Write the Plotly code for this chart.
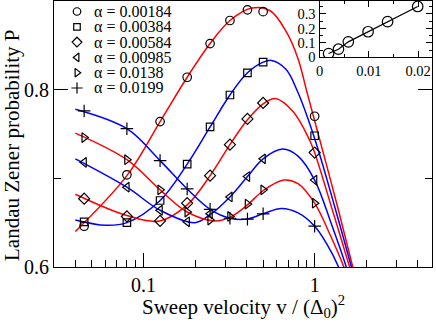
import math
import plotly.graph_objects as go

# ---------------- data ----------------
alpha_labels = ["α = 0.00184", "α = 0.00384", "α = 0.00584",
                "α = 0.00985", "α = 0.0138", "α = 0.0199"]

# measured points (sweep velocity)
v_points = [0.045, 0.08, 0.125, 0.18, 0.245, 0.32, 0.405, 0.5, 1.0]
P_a1 = [0.646, 0.704, 0.764, 0.814, 0.852, 0.878, 0.890, 0.888, 0.770]
P_a2 = [0.651, 0.650, 0.675, 0.716, 0.758, 0.794, 0.819, 0.831, 0.748]
P_a3 = [0.677, 0.657, 0.652, 0.672, 0.703, 0.738, 0.767, 0.785, 0.729]
P_a4 = [0.718, 0.690, 0.664, 0.651, 0.660, 0.679, 0.702, 0.722, 0.698]
P_a5 = [0.746, 0.721, 0.687, 0.662, 0.653, 0.657, 0.671, 0.687, 0.672]
P_a6 = [0.776, 0.756, 0.720, 0.688, 0.665, 0.655, 0.654, 0.660, 0.646]

# fitted curves
fit_v1 = [0.04, 0.08, 0.125, 0.18, 0.245, 0.32, 0.43, 0.55, 0.68, 0.8, 0.9, 1.0, 1.34, 1.67, 1.85]
fit_P1 = [0.640, 0.703, 0.764, 0.814, 0.852, 0.878, 0.892, 0.889, 0.866, 0.835, 0.798, 0.765, 0.673, 0.600, 0.567]
fit_v2 = [0.04, 0.06, 0.08, 0.125, 0.18, 0.245, 0.32, 0.405, 0.5, 0.56, 0.68, 0.79, 1.0, 1.31, 1.64, 1.8]
fit_P2 = [0.653, 0.647, 0.650, 0.675, 0.716, 0.758, 0.794, 0.819, 0.831, 0.833, 0.823, 0.799, 0.745, 0.668, 0.600, 0.572]
fit_v3 = [0.04, 0.08, 0.125, 0.18, 0.245, 0.32, 0.405, 0.5, 0.59, 0.75, 0.935, 1.0, 1.28, 1.6, 1.78]
fit_P3 = [0.682, 0.658, 0.652, 0.670, 0.703, 0.738, 0.766, 0.784, 0.790, 0.775, 0.743, 0.729, 0.662, 0.600, 0.570]
fit_v4 = [0.04, 0.08, 0.125, 0.2, 0.245, 0.32, 0.405, 0.5, 0.65, 0.8, 1.0, 1.25, 1.53, 1.7]
fit_P4 = [0.722, 0.690, 0.664, 0.650, 0.659, 0.679, 0.702, 0.722, 0.733, 0.725, 0.698, 0.649, 0.600, 0.568]
fit_v5 = [0.04, 0.08, 0.125, 0.18, 0.26, 0.32, 0.405, 0.5, 0.66, 0.8, 1.0, 1.22, 1.48, 1.65]
fit_P5 = [0.751, 0.721, 0.687, 0.662, 0.652, 0.656, 0.670, 0.686, 0.698, 0.694, 0.672, 0.638, 0.600, 0.572]
fit_v6 = [0.04, 0.08, 0.125, 0.18, 0.245, 0.32, 0.4, 0.5, 0.64, 0.8, 1.0, 1.17, 1.38, 1.55]
fit_P6 = [0.778, 0.756, 0.720, 0.688, 0.665, 0.655, 0.654, 0.660, 0.666, 0.661, 0.646, 0.627, 0.600, 0.572]

# inset
inset_alpha = [0.00184, 0.00384, 0.00584, 0.00985, 0.0138, 0.0199]
inset_val = [0.026, 0.056, 0.107, 0.177, 0.247, 0.352]

x_tick_vals = [0.1, 1]
x_tick_text = ["0.1", "1"]
y_tick_vals = [0.6, 0.8]
y_tick_text = ["0.6", "0.8"]

# ---------------- style ----------------
W, H = 436, 323
ML, MR, MT, MB = 54, 4, 1, 56
PW, PH = W - ML - MR, H - MT - MB
FONT = "Liberation Serif, Times New Roman, serif"
RED, BLUE = "#ff0000", "#0000ff"

point_sets = [P_a1, P_a2, P_a3, P_a4, P_a5, P_a6]
fits = [(fit_v1, fit_P1), (fit_v2, fit_P2), (fit_v3, fit_P3),
        (fit_v4, fit_P4), (fit_v5, fit_P5), (fit_v6, fit_P6)]
colors = [RED, BLUE, RED, BLUE, RED, BLUE]
symbols = ["circle-open", "square-open", "diamond-open",
           "triangle-left-open", "triangle-right-open", "cross-thin-open"]
sizes = [8.5, 7.5, 8.5, 8.5, 8.5, 9]
leg_sizes = [7.5, 6.5, 7.5, 7.5, 7.5, 8]

fig = go.Figure()

for (fv, fp), c in zip(fits, colors):
    fig.add_trace(go.Scatter(x=fv, y=fp, mode="lines",
                             line=dict(color=c, width=1.5, shape="spline", smoothing=1.0),
                             showlegend=False, hoverinfo="skip"))

for P, sym, sz in zip(point_sets, symbols, sizes):
    fig.add_trace(go.Scatter(x=v_points, y=P, mode="markers",
                             marker=dict(symbol=sym, size=sz, color="black",
                                         line=dict(color="black", width=1.2)),
                             showlegend=False))

# inset
fig.add_trace(go.Scatter(x=inset_alpha, y=inset_val, mode="lines+markers",
                         xaxis="x2", yaxis="y2",
                         line=dict(color="black", width=1.2),
                         marker=dict(symbol="circle-open", size=10.5, color="black",
                                     line=dict(color="black", width=1.2)),
                         showlegend=False))

# custom legend (markers on a hidden overlay axis, text as annotations)
leg_x_px, leg_text_px = 77, 92
leg_y0_px, leg_step_px = 11.5, 15.3
leg_x = [(leg_x_px - ML) / PW] * 6
leg_y = [(MT + PH - (leg_y0_px + i * leg_step_px)) / PH for i in range(6)]
for i, (sym, sz) in enumerate(zip(symbols, leg_sizes)):
    fig.add_trace(go.Scatter(x=[leg_x[i]], y=[leg_y[i]], mode="markers",
                             xaxis="x3", yaxis="y3",
                             marker=dict(symbol=sym, size=sz, color="black",
                                         line=dict(color="black", width=1.2)),
                             showlegend=False, hoverinfo="skip"))
annotations = []
for i, lab in enumerate(alpha_labels):
    annotations.append(dict(x=(leg_text_px - ML) / PW, y=leg_y[i], xref="paper", yref="paper",
                            text=lab, showarrow=False, xanchor="left", yanchor="middle",
                            font=dict(family=FONT, size=16, color="black")))

# axis titles
annotations.append(dict(x=0.5, y=-0.085, xref="paper", yref="paper",
                        text="Sweep velocity v / (Δ<sub>0</sub>)<sup>2</sup>",
                        showarrow=False, xanchor="center", yanchor="top",
                        font=dict(family=FONT, size=21, color="black")))
annotations.append(dict(x=(12 - ML) / PW, y=(MT + PH - 145) / PH, xref="paper", yref="paper",
                        text="Landau Zener probability P", textangle=-90,
                        showarrow=False, xanchor="center", yanchor="middle",
                        font=dict(family=FONT, size=21, color="black")))

axis_common = dict(showgrid=False, zeroline=False, showline=True, linecolor="black",
                   linewidth=1, ticks="inside", tickcolor="black", tickwidth=1)

inset_x0 = (319.5 - ML) / PW
inset_y0 = (MT + PH - 57.3) / PH

fig.update_layout(
    width=W, height=H,
    margin=dict(l=ML, r=MR, t=MT, b=MB),
    paper_bgcolor="white", plot_bgcolor="rgba(0,0,0,0)",
    font=dict(family=FONT, color="black"),
    showlegend=False,
    xaxis=dict(type="log", range=[math.log10(0.03), math.log10(4.85)],
               tickvals=x_tick_vals, ticktext=x_tick_text, ticklen=14, mirror=True,
               tickfont=dict(family=FONT, size=20, color="black"),
               minor=dict(tickvals=[0.04, 0.05, 0.06, 0.07, 0.08, 0.09,
                                    0.2, 0.3, 0.4, 0.5, 0.6, 0.7, 0.8, 0.9, 2, 3, 4],
                          ticks="inside", ticklen=7, tickcolor="black", tickwidth=1),
               domain=[0, 1], **axis_common),
    yaxis=dict(range=[0.6, 0.9], tickvals=y_tick_vals, ticktext=y_tick_text, ticklen=14,
               mirror="ticks", tickfont=dict(family=FONT, size=20, color="black"),
               minor=dict(tickvals=[0.7], ticks="inside", ticklen=7, tickcolor="black", tickwidth=1),
               domain=[0, 1], **axis_common),
    xaxis2=dict(domain=[inset_x0, 1], anchor="y2", range=[0, 0.0228],
                tickvals=[0, 0.01, 0.02], ticktext=["0", "0.01", "0.02"], ticklen=6,
                mirror="ticks", tickfont=dict(family=FONT, size=14.5, color="black"),
                minor=dict(tickvals=[0.005, 0.015], ticks="inside", ticklen=3,
                           tickcolor="black", tickwidth=1),
                **axis_common),
    yaxis2=dict(domain=[inset_y0, 1], anchor="x2", range=[0, 0.39],
                tickvals=[0, 0.1, 0.2, 0.3], ticktext=["0", "0.1", "0.2", "0.3"], ticklen=6,
                mirror="ticks", tickfont=dict(family=FONT, size=14.5, color="black"),
                minor=dict(tickvals=[0.05, 0.15, 0.25, 0.35], ticks="inside", ticklen=3,
                           tickcolor="black", tickwidth=1),
                **axis_common),
    xaxis3=dict(domain=[0, 1], anchor="y3", range=[0, 1], visible=False),
    yaxis3=dict(domain=[0, 1], anchor="x3", range=[0, 1], visible=False),
    annotations=annotations,
)

fig.write_html("out.html", config={"displayModeBar": False},
               post_script="document.body.style.margin='0';document.body.style.overflow='hidden';")
